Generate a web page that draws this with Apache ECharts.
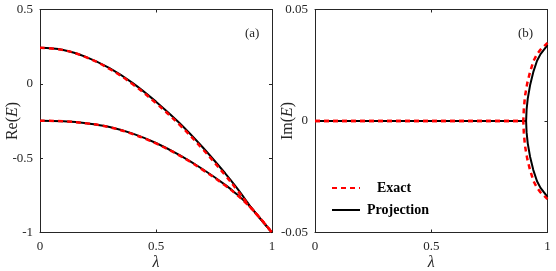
<!DOCTYPE html>
<html>
<head>
<meta charset="utf-8">
<script src="https://cdn.jsdelivr.net/npm/echarts@6/dist/echarts.min.js"></script>
<style>
html,body{margin:0;padding:0;background:#fff;}
#chart{width:556px;height:271px;}
</style>
</head>
<body>
<div id="chart"></div>
<script>
// ---- data ----
const xTicks = [0, 0.5, 1];
const reTicks = [0.5, 0, -0.5, -1];
const imTicks = [0.05, 0, -0.05];

// Re(E), projection (black)
const reProjUpper = [[0,0.242],[0.1,0.228],[0.2,0.180],[0.3,0.105],[0.4,0.005],[0.5,-0.120],[0.6,-0.262],[0.7,-0.425],[0.8,-0.605],[0.85,-0.703],[0.9,-0.810],[0.906,-0.825],[0.95,-0.908],[1.0,-1.0]];
const reProjLower = [[0,-0.248],[0.1,-0.252],[0.2,-0.265],[0.3,-0.290],[0.4,-0.335],[0.5,-0.398],[0.6,-0.478],[0.7,-0.573],[0.8,-0.681],[0.85,-0.745],[0.9,-0.815],[0.906,-0.825],[0.95,-0.908],[1.0,-1.0]];
// Re(E), exact (red dashed)
const reExactUpper = [[0,0.242],[0.1,0.227],[0.2,0.178],[0.3,0.100],[0.4,-0.003],[0.5,-0.130],[0.6,-0.273],[0.7,-0.437],[0.8,-0.618],[0.85,-0.715],[0.89,-0.797],[0.898,-0.815],[0.95,-0.906],[1.0,-1.0]];
const reExactLower = [[0,-0.248],[0.1,-0.252],[0.2,-0.266],[0.3,-0.292],[0.4,-0.338],[0.5,-0.401],[0.6,-0.481],[0.7,-0.577],[0.8,-0.686],[0.85,-0.748],[0.89,-0.805],[0.898,-0.815],[0.95,-0.906],[1.0,-1.0]];

// Im(E), projection (black)
const imProjUpper = [[0,0],[0.908,0],[0.910,0.005],[0.915,0.010],[0.925,0.016],[0.939,0.022],[0.955,0.027],[0.970,0.030],[0.985,0.032],[1.0,0.034]];
const imProjLower = [[0,0],[0.908,0],[0.910,-0.005],[0.915,-0.010],[0.925,-0.016],[0.939,-0.022],[0.955,-0.027],[0.970,-0.030],[0.985,-0.032],[1.0,-0.034]];
// Im(E), exact (red dashed)
const imExactUpper = [[0,0],[0.896,0],[0.898,0.005],[0.903,0.011],[0.913,0.017],[0.925,0.022],[0.940,0.027],[0.955,0.030],[0.970,0.032],[0.985,0.0335],[1.0,0.035]];
const imExactLower = [[0,0],[0.896,0],[0.898,-0.005],[0.903,-0.011],[0.913,-0.017],[0.925,-0.022],[0.940,-0.027],[0.955,-0.030],[0.970,-0.032],[0.985,-0.0335],[1.0,-0.035]];

const panelLabels = ['(a)', '(b)'];
const legendNames = ['Exact', 'Projection'];

// ---- chart ----
const FONT = 'Liberation Serif';
const AX = '#262626';
const chart = echarts.init(document.getElementById('chart'), null, {renderer:'canvas'});

function fmt(v){ return String(v); }

function xAx(gi, show){
  return {
    type:'value', gridIndex:gi, min:0, max:1, interval:0.5,
    position: show ? 'bottom' : 'top',
    name: show ? 'λ' : '', nameLocation:'middle', nameGap:22, nameMoveOverlap:false,
    nameTextStyle:{fontFamily:FONT, fontSize:16, fontStyle:'italic', color:AX},
    axisLine:{show:true, onZero:false, lineStyle:{color:AX, width:1}},
    axisTick:{show:true, inside:true, length:3, lineStyle:{color:AX}},
    axisLabel:{show:show, fontFamily:FONT, fontSize:13, color:AX, margin:8, formatter:fmt},
    splitLine:{show:false}
  };
}
function yAx(gi, show, min, max, interval, nameRich){
  return {
    type:'value', gridIndex:gi, min:min, max:max, interval:interval,
    position: show ? 'left' : 'right',
    name: show ? nameRich : '', nameLocation:'middle', nameGap:19, nameRotate:90, nameMoveOverlap:false,
    nameTextStyle:{fontFamily:FONT, fontSize:16, color:AX,
      rich:{i:{fontFamily:FONT, fontSize:16, fontStyle:'italic', color:AX}}},
    axisLine:{show:true, onZero:false, lineStyle:{color:AX, width:1}},
    axisTick:{show:true, inside:true, length:3, lineStyle:{color:AX}},
    axisLabel:{show:show, fontFamily:FONT, fontSize:13, color:AX, margin:7, formatter:fmt},
    splitLine:{show:false}
  };
}

function line(name, xi, yi, data, isExact, smooth){
  return {
    type:'line', name:name, xAxisIndex:xi, yAxisIndex:yi, data:data,
    symbol:'none', smooth:smooth, z: isExact ? 3 : 2,
    lineStyle: isExact ? {color:'#ff0000', width:2.5, type:[5,4]} : {color:'#000000', width:2},
    itemStyle:{color: isExact ? '#ff0000' : '#000000'},
    animation:false
  };
}

const option = {
  animation:false,
  title:[
    {text:panelLabels[0], left:240, top:22, textStyle:{fontFamily:FONT, fontSize:13, fontWeight:'normal', color:AX}},
    {text:panelLabels[1], left:513, top:22, textStyle:{fontFamily:FONT, fontSize:13, fontWeight:'normal', color:AX}}
  ],
  grid:[
    {left:40, right:284, top:9.5, bottom:38.5, outerBoundsMode:'none', containLabel:false},
    {left:315, right:8.5, top:9.5, bottom:38.5, outerBoundsMode:'none', containLabel:false}
  ],
  xAxis:[ xAx(0,true), xAx(0,false), xAx(1,true), xAx(1,false) ],
  yAxis:[
    yAx(0,true,-1,0.5,0.5,'Re({i|E})'), yAx(0,false,-1,0.5,0.5,''),
    yAx(1,true,-0.05,0.05,0.05,'Im({i|E})'), yAx(1,false,-0.05,0.05,0.05,'')
  ],
  legend:{
    orient:'vertical', left:331, top:181, padding:0, itemWidth:28, itemHeight:14, itemGap:8,
    itemStyle:{opacity:0},
    textStyle:{fontFamily:FONT, fontSize:14, fontWeight:'bold', color:'#000'},
    data:[
      {name:legendNames[0], textStyle:{padding:[0,0,0,12]}},
      {name:legendNames[1], textStyle:{padding:[0,0,0,2]}}
    ]
  },
  series:[
    line(legendNames[1], 0, 0, reProjUpper, false, 0.4),
    line(legendNames[1], 0, 0, reProjLower, false, 0.4),
    line(legendNames[0], 0, 0, reExactUpper, true, 0.4),
    line(legendNames[0], 0, 0, reExactLower, true, 0.4),
    line(legendNames[1], 2, 2, imProjUpper, false, false),
    line(legendNames[1], 2, 2, imProjLower, false, false),
    line(legendNames[0], 2, 2, imExactUpper, true, false),
    line(legendNames[0], 2, 2, imExactLower, true, false)
  ]
};
chart.setOption(option);
</script>
</body>
</html>
